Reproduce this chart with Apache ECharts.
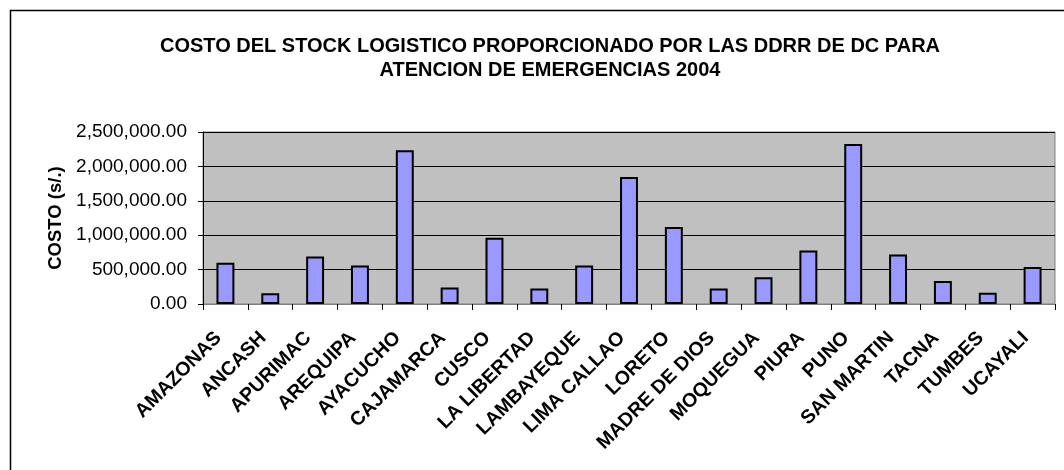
<!DOCTYPE html>
<html>
<head>
<meta charset="utf-8">
<script src="https://cdn.jsdelivr.net/npm/echarts@6/dist/echarts.min.js"></script>
<style>
html,body{margin:0;padding:0;background:#fff;}
#chart{width:1064px;height:470px;}
</style>
</head>
<body>
<div id="chart"></div>
<script>
var titleLine1 = 'COSTO DEL STOCK LOGISTICO PROPORCIONADO POR LAS DDRR DE DC PARA';
var titleLine2 = 'ATENCION DE EMERGENCIAS 2004';
var yAxisName = 'COSTO (s/.)';
var categories = ['AMAZONAS','ANCASH','APURIMAC','AREQUIPA','AYACUCHO','CAJAMARCA','CUSCO','LA LIBERTAD','LAMBAYEQUE','LIMA CALLAO','LORETO','MADRE DE DIOS','MOQUEGUA','PIURA','PUNO','SAN MARTIN','TACNA','TUMBES','UCAYALI'];
var costs = [600000,155000,692000,561000,2233000,241000,964000,227000,561000,1846000,1119000,227000,387000,779000,2326000,721000,334000,164000,538000];
var yTicks = [0,500000,1000000,1500000,2000000,2500000];

var chart = echarts.init(document.getElementById('chart'));
var FONT = '"Liberation Sans", Arial, sans-serif';
chart.setOption({
  animation: false,
  backgroundColor: '#ffffff',
  textStyle: { fontFamily: FONT },
  title: {
    text: titleLine1 + '\n' + titleLine2,
    left: 545,
    textAlign: 'center',
    top: 29.5,
    padding: 5,
    textStyle: { fontFamily: FONT, fontSize: 20, fontWeight: 'bold', color: '#000', lineHeight: 24 }
  },
  graphic: [{
    type: 'rect',
    shape: { x: 10.5, y: 10.5, width: 1100, height: 500 },
    style: { fill: 'none', stroke: '#000', lineWidth: 1.5 },
    silent: true,
    z: -1
  }],
  grid: {
    left: 203, right: 9, top: 132, bottom: 166,
    show: true, backgroundColor: '#C0C0C0', borderColor: '#808080', borderWidth: 1
  },
  xAxis: {
    type: 'category',
    data: categories,
    boundaryGap: true,
    axisLine: { lineStyle: { color: '#808080', width: 1 } },
    axisTick: { show: true, length: 6, lineStyle: { color: '#000' } },
    axisLabel: { rotate: 45, interval: 0, margin: 24, padding: [0, 10, 0, 0], color: '#000', fontFamily: FONT, fontSize: 19.5, fontWeight: 'bold' }
  },
  yAxis: {
    type: 'value',
    min: yTicks[0], max: yTicks[yTicks.length - 1], interval: yTicks[1] - yTicks[0],
    name: yAxisName,
    nameLocation: 'middle',
    nameGap: 137,
    nameTextStyle: { fontFamily: FONT, fontSize: 18.5, fontWeight: 'bold', color: '#000' },
    axisLine: { show: true, lineStyle: { color: '#000', width: 1 } },
    axisTick: { show: true, length: 5, lineStyle: { color: '#000' } },
    splitLine: { show: true, lineStyle: { color: '#000', width: 1 } },
    axisLabel: {
      margin: 16, color: '#000', fontFamily: FONT, fontSize: 19,
      formatter: function (v) { return v.toLocaleString('en-US', { minimumFractionDigits: 2, maximumFractionDigits: 2 }); }
    }
  },
  series: [{
    type: 'bar',
    data: costs,
    barWidth: '40%',
    itemStyle: { color: '#9999FF', borderColor: '#000', borderWidth: 2 }
  }]
});
</script>
</body>
</html>
